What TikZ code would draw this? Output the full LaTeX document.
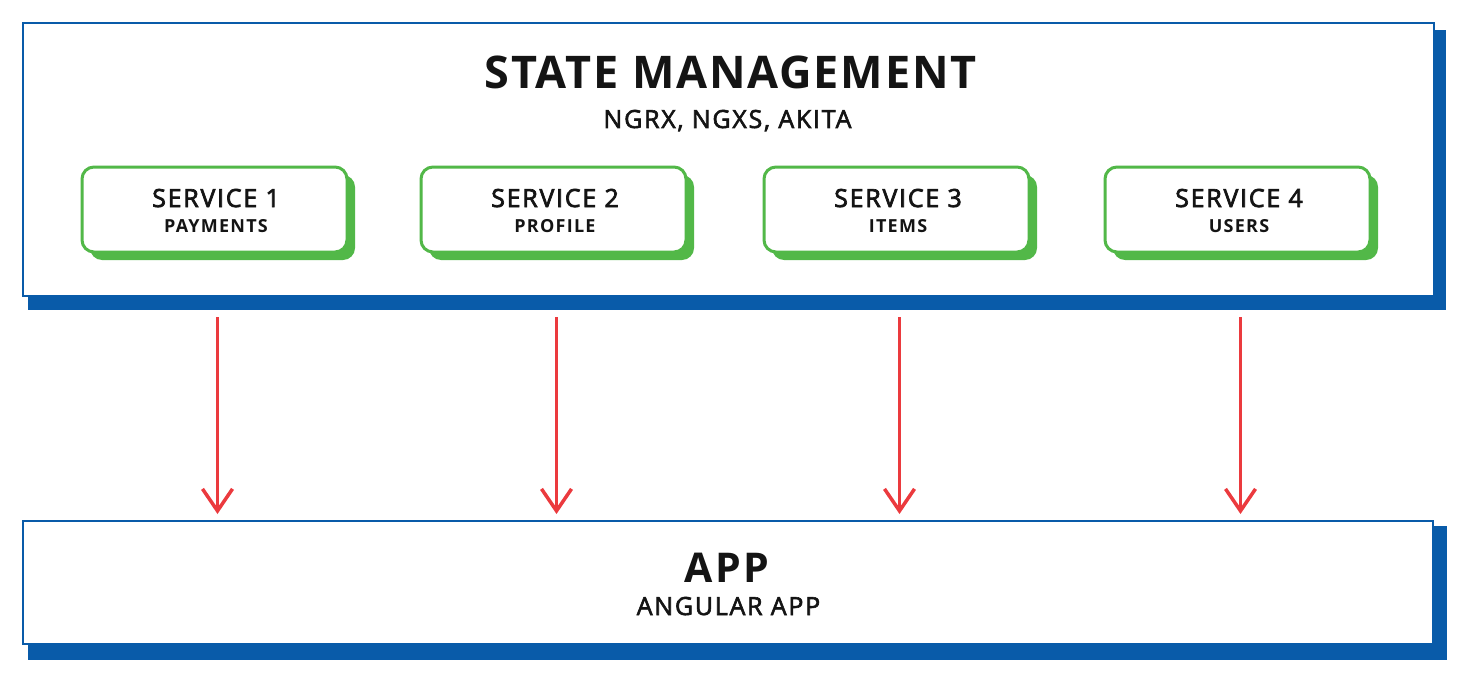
\documentclass[tikz,border=0pt]{standalone}
\usepackage{fontspec}
\setmainfont{Open Sans}
\newfontfamily\titlef[LetterSpace=4]{Open Sans}
\newfontfamily\appf[LetterSpace=7]{Open Sans}
\newfontfamily\spacef[LetterSpace=7]{Open Sans}
\newfontfamily\smallf[LetterSpace=7]{Open Sans}
\newfontfamily\medf[LetterSpace=7]{Open Sans}
\newcommand\heavier[2]{\special{pdf:literal direct #1 w 2 Tr}#2\special{pdf:literal direct 0 Tr}}
\usetikzlibrary{arrows.meta}
\definecolor{bblue}{HTML}{095BA9}
\definecolor{sgreen}{HTML}{52B848}
\definecolor{ared}{HTML}{EB3A3E}
\definecolor{tblack}{HTML}{141414}
\tikzset{
  bigbox/.style={draw=bblue, line width=2.5pt, fill=white, rectangle, inner sep=0pt, outer sep=0pt},
  shadowfill/.style={fill=bblue},
  svcbox/.style={draw=sgreen, line width=3pt, fill=white, rectangle, rounded corners=12pt,
    minimum width=265pt, minimum height=85pt, inner sep=0pt, outer sep=0pt},
  svcshadow/.style={fill=sgreen, rounded corners=12pt},
  txt/.style={anchor=base, inner sep=0pt, text=tblack},
  bigtitle/.style={txt, font=\titlef\bfseries\fontsize{45}{54}\selectfont},
  subtitle/.style={txt, font=\spacef\fontsize{25}{30}\selectfont},
  apptitle/.style={txt, font=\appf\bfseries\fontsize{41}{50}\selectfont},
  svctitle/.style={txt, font=\medf\fontsize{25}{30}\selectfont},
  svcsub/.style={txt, font=\smallf\bfseries\fontsize{18}{22}\selectfont},
  arr/.style={draw=ared, line width=3.5pt, -{Straight Barb[length=22pt,width=30pt,line width=3.5pt]}}
}
\begin{document}
\begin{tikzpicture}[x=1pt,y=-1pt]
\useasboundingbox (0,0) rectangle (1469,682);
% top box
\fill[shadowfill] (28,30) rectangle (1446,310);
\node[bigbox, minimum width=1411pt, minimum height=273pt] (top) at (728.5,159.5) {};
\node[bigtitle] (title) at (730.5,89) {STATE MANAGEMENT};
\node[subtitle] (libs) at (727.5,128) {\heavier{0.6}{NGRX, NGXS, AKITA}};
% app box
\fill[shadowfill] (28,526) rectangle (1447,660);
\node[bigbox, minimum width=1410pt, minimum height=123pt] (app) at (728,582.5) {};
\node[apptitle] (apptxt) at (727,582) {APP};
\node[subtitle] (angular) at (728.5,615) {\heavier{0.6}{ANGULAR APP}};
% services
\foreach \i/\x/\a/\b in {1/214.5/SERVICE 1/PAYMENTS, 2/553.5/SERVICE 2/PROFILE, 3/896.5/SERVICE 3/ITEMS, 4/1237.5/SERVICE 4/USERS}{
  \fill[svcshadow] (\x-124.5,175) rectangle (\x+140.5,260);
  \node[svcbox] (s\i) at (\x,209.5) {};
  \node[svctitle] (s\i t) at (\x+1.5,207) {\heavier{0.7}{\a}};
  \node[svcsub] (s\i s) at (\x+1.5,232) {\b};
  \draw[arr] ([xshift=3pt,yshift=-21pt]top.south -| s\i.south) -- ([xshift=3pt,yshift=7pt]app.north -| s\i.south);
}
\end{tikzpicture}
\end{document}
